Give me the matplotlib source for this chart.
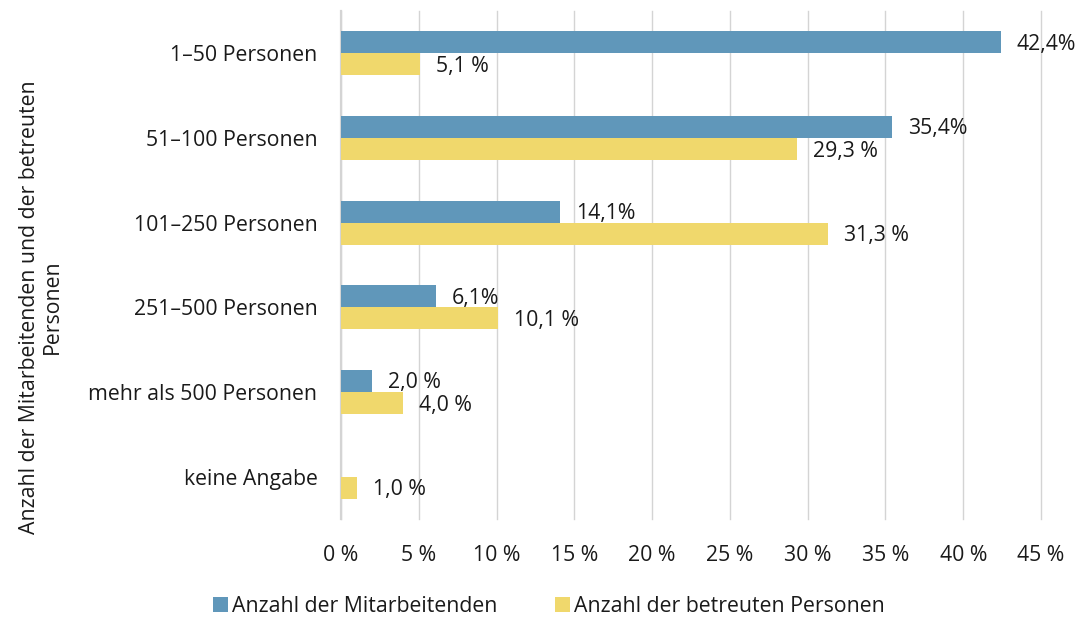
import matplotlib
matplotlib.use("Agg")
import matplotlib.pyplot as plt
import numpy as np
from matplotlib.transforms import offset_copy

plt.rcParams['font.family'] = ['Open Sans', 'DejaVu Sans']

categories = ["1–50 Personen", "51–100 Personen", "101–250 Personen",
              "251–500 Personen", "mehr als 500 Personen", "keine Angabe"]
mitarbeitende = [42.4, 35.4, 14.1, 6.1, 2.0, 0.0]
betreute = [5.1, 29.3, 31.3, 10.1, 4.0, 1.0]
labels_mitarbeitende = ["42,4%", "35,4%", "14,1%", "6,1%", "2,0 %", ""]
labels_betreute = ["5,1 %", "29,3 %", "31,3 %", "10,1 %", "4,0 %", "1,0 %"]
xticks = [0, 5, 10, 15, 20, 25, 30, 35, 40, 45]
xticklabels = ["0 %", "5 %", "10 %", "15 %", "20 %", "25 %", "30 %", "35 %", "40 %", "45 %"]

blue = "#6097BA"
yellow = "#F0D86C"
txt = "#1a1a1a"
fs = 15.3

fig = plt.figure(figsize=(10.83, 6.19), dpi=100)
ax = fig.add_axes([341/1083, 1 - 519/619, (1041-341)/1083, (519-11)/619])

y = np.arange(len(categories))
h = 0.26
ax.barh(y - h/2, mitarbeitende, height=h, color=blue, label="Anzahl der Mitarbeitenden", zorder=3)
ax.barh(y + h/2, betreute, height=h, color=yellow, label="Anzahl der betreuten Personen", zorder=3)

tr = offset_copy(ax.transData, fig=fig, x=16, y=-2, units='dots')
for yi, v, lab in zip(y, mitarbeitende, labels_mitarbeitende):
    if lab:
        ax.text(v, yi - h/2, lab, transform=tr, va='center', ha='left', fontsize=fs, color=txt, zorder=4)
for yi, v, lab in zip(y, betreute, labels_betreute):
    if lab:
        ax.text(v, yi + h/2, lab, transform=tr, va='center', ha='left', fontsize=fs, color=txt, zorder=4)

ax.set_ylim(len(categories) - 0.5, -0.5)
ax.set_xlim(0, 45)
ax.set_yticks(y)
ax.set_yticklabels(categories, fontsize=fs, color=txt)
ax.set_xticks(xticks)
ax.set_xticklabels(xticklabels, fontsize=fs, color=txt)
ax.tick_params(axis='both', length=0)
ax.tick_params(axis='y', pad=17)
ax.tick_params(axis='x', pad=19)
ax.grid(axis='x', color='#d4d4d4', linewidth=1, zorder=0)
for gl in ax.get_xgridlines():
    gl.set_clip_on(False)
for s in ['top', 'right', 'bottom']:
    ax.spines[s].set_visible(False)
ax.spines['left'].set_color('#d4d4d4')
ax.spines['left'].set_linewidth(1.6)

fig.text(41/1083, 1 - 307/619, "Anzahl der Mitarbeitenden und der betreuten\nPersonen",
         rotation=90, ha='center', va='center', fontsize=fs, color=txt,
         multialignment='center', linespacing=1.1)

leg = fig.legend(loc='center', bbox_to_anchor=(549/1083, 1 - 606/619), ncol=2, frameon=False,
                 fontsize=fs, handlelength=0.7, handleheight=0.7, handletextpad=0.2,
                 columnspacing=2.7)
for t in leg.get_texts():
    t.set_color(txt)

fig.savefig("out.png", dpi=100)
